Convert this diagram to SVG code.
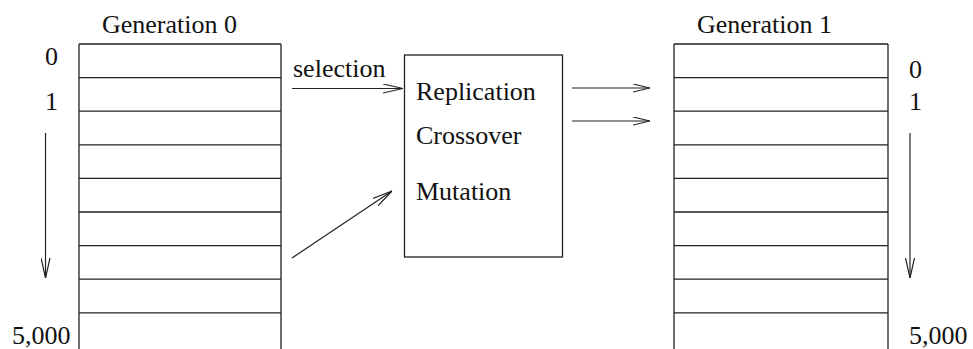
<svg xmlns="http://www.w3.org/2000/svg" width="973" height="349" viewBox="0 0 973 349">
  <style>
    text { font-family: "Liberation Serif", "DejaVu Serif", "Times New Roman", serif; font-size: 26px; fill: #111; }
    .ln { stroke: #222; stroke-width: 1.3; fill: none; }
    .ar { stroke: #222; stroke-width: 1.2; fill: none; }
  </style>
  <defs>
    <marker id="vhead" viewBox="0 0 20 10" markerWidth="20" markerHeight="10" refX="20" refY="5" orient="auto" markerUnits="userSpaceOnUse">
      <path d="M0,0.5 L20,5 L0,9.5" fill="none" stroke="#222" stroke-width="1.2"/>
    </marker>
    <marker id="vhead-s" viewBox="0 0 17 9" markerWidth="17" markerHeight="9" refX="17" refY="4.5" orient="auto" markerUnits="userSpaceOnUse">
      <path d="M0,0.5 L17,4.5 L0,8.5" fill="none" stroke="#222" stroke-width="1.2"/>
    </marker>
  </defs>
  <rect width="973" height="349" fill="#fff"/>

  <!-- population table, generation 0 -->
  <g id="gen0">
    <text x="102" y="33" font-family="Liberation Serif, serif">Generation 0</text>
    <path class="ln" d="M79,44 V349 M281,44 V349
      M79,44 H281 M79,77.6 H281 M79,111.2 H281 M79,144.8 H281 M79,178.4 H281
      M79,212 H281 M79,245.6 H281 M79,279.2 H281 M79,312.8 H281"/>
    <text x="45" y="65" font-family="Liberation Serif, serif">0</text>
    <text x="45" y="110" font-family="Liberation Serif, serif">1</text>
    <text x="12" y="344" font-family="Liberation Serif, serif">5,000</text>
    <line class="ar" x1="45.5" y1="133" x2="45.5" y2="278" marker-end="url(#vhead)"/>
  </g>

  <!-- genetic operators -->
  <g id="operators">
    <rect class="ln" x="404.5" y="55" width="158" height="202"/>
    <text x="416" y="100" font-family="Liberation Serif, serif">Replication</text>
    <text x="416" y="144" font-family="Liberation Serif, serif">Crossover</text>
    <text x="416" y="200" font-family="Liberation Serif, serif">Mutation</text>
  </g>

  <!-- population table, generation 1 -->
  <g id="gen1">
    <text x="697" y="33" font-family="Liberation Serif, serif">Generation 1</text>
    <path class="ln" d="M674,44 V349 M888,44 V349
      M674,44 H888 M674,77.6 H888 M674,111.2 H888 M674,144.8 H888 M674,178.4 H888
      M674,212 H888 M674,245.6 H888 M674,279.2 H888 M674,312.8 H888"/>
    <text x="909" y="78" font-family="Liberation Serif, serif">0</text>
    <text x="909" y="110" font-family="Liberation Serif, serif">1</text>
    <text x="909" y="344" font-family="Liberation Serif, serif">5,000</text>
    <line class="ar" x1="910" y1="133" x2="910" y2="278" marker-end="url(#vhead)"/>
  </g>

  <!-- connectors -->
  <g id="connectors">
    <text x="293" y="77" font-family="Liberation Serif, serif">selection</text>
    <line class="ar" x1="292" y1="88.5" x2="403" y2="88.5" marker-end="url(#vhead)"/>
    <line class="ar" x1="292" y1="258" x2="392" y2="191" marker-end="url(#vhead)"/>
    <line class="ar" x1="572" y1="88" x2="650" y2="88" marker-end="url(#vhead-s)"/>
    <line class="ar" x1="572" y1="121" x2="650" y2="121" marker-end="url(#vhead-s)"/>
  </g>
</svg>
